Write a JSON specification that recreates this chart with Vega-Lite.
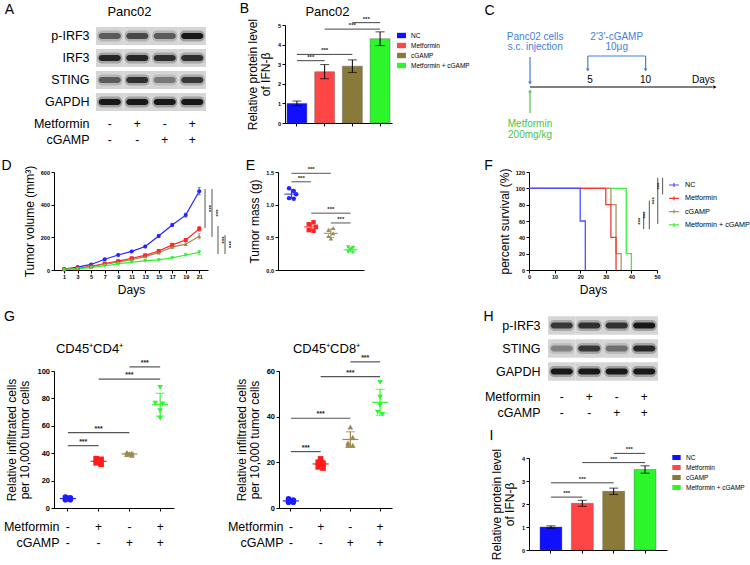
{
"$schema": "https://vega.github.io/schema/vega-lite/v6.json",
"background": "white",
"padding": {"left": 0, "top": 1, "right": 0, "bottom": 0},
"bounds": "full", "align": "none",
"spacing": 10,
"resolve": {"scale": {"color": "independent", "shape": "independent", "opacity": "independent", "fillOpacity": "independent", "xOffset": "independent"}, "legend": {"color": "independent", "shape": "independent"}},
"config": {
  "font": "Liberation Sans",
  "view": {"stroke": null},
  "axis": {"domainColor": "#000", "tickColor": "#000", "labelColor": "#000", "titleColor": "#000", "labelFontWeight": "bold", "labelFontSize": 6, "titleFontWeight": "normal", "titleFontSize": 12, "grid": false, "tickSize": 3, "labelPadding": 1.5, "titlePadding": 4, "domainWidth": 1, "tickWidth": 1, "labelFont": "Liberation Sans", "titleFont": "Liberation Sans", "labelOverlap": false, "labelFlush": false},
  "legend": {"labelColor": "#000", "labelFont": "Liberation Sans", "labelFontWeight": "normal"}
},
"datasets": {
  "treat": [
    {"group": "NC", "row": "Metformin", "sign": "-"}, {"group": "Metformin", "row": "Metformin", "sign": "+"}, {"group": "cGAMP", "row": "Metformin", "sign": "-"}, {"group": "Metformin + cGAMP", "row": "Metformin", "sign": "+"},
    {"group": "NC", "row": "cGAMP", "sign": "-"}, {"group": "Metformin", "row": "cGAMP", "sign": "-"}, {"group": "cGAMP", "row": "cGAMP", "sign": "+"}, {"group": "Metformin + cGAMP", "row": "cGAMP", "sign": "+"}
  ],
  "blotA": [
    {"protein": "p-IRF3", "group": "NC", "intensity": 0.55}, {"protein": "p-IRF3", "group": "Metformin", "intensity": 0.65}, {"protein": "p-IRF3", "group": "cGAMP", "intensity": 0.55}, {"protein": "p-IRF3", "group": "Metformin + cGAMP", "intensity": 0.95},
    {"protein": "IRF3", "group": "NC", "intensity": 0.85}, {"protein": "IRF3", "group": "Metformin", "intensity": 0.85}, {"protein": "IRF3", "group": "cGAMP", "intensity": 0.8}, {"protein": "IRF3", "group": "Metformin + cGAMP", "intensity": 0.8},
    {"protein": "STING", "group": "NC", "intensity": 0.55}, {"protein": "STING", "group": "Metformin", "intensity": 0.8}, {"protein": "STING", "group": "cGAMP", "intensity": 0.4}, {"protein": "STING", "group": "Metformin + cGAMP", "intensity": 0.75},
    {"protein": "GAPDH", "group": "NC", "intensity": 0.95}, {"protein": "GAPDH", "group": "Metformin", "intensity": 0.95}, {"protein": "GAPDH", "group": "cGAMP", "intensity": 0.95}, {"protein": "GAPDH", "group": "Metformin + cGAMP", "intensity": 0.95}
  ],
  "blotH": [
    {"protein": "p-IRF3", "group": "NC", "intensity": 0.75}, {"protein": "p-IRF3", "group": "Metformin", "intensity": 0.8}, {"protein": "p-IRF3", "group": "cGAMP", "intensity": 0.78}, {"protein": "p-IRF3", "group": "Metformin + cGAMP", "intensity": 0.95},
    {"protein": "STING", "group": "NC", "intensity": 0.35}, {"protein": "STING", "group": "Metformin", "intensity": 0.75}, {"protein": "STING", "group": "cGAMP", "intensity": 0.45}, {"protein": "STING", "group": "Metformin + cGAMP", "intensity": 0.85},
    {"protein": "GAPDH", "group": "NC", "intensity": 0.95}, {"protein": "GAPDH", "group": "Metformin", "intensity": 0.95}, {"protein": "GAPDH", "group": "cGAMP", "intensity": 0.95}, {"protein": "GAPDH", "group": "Metformin + cGAMP", "intensity": 0.95}
  ],
  "ifnB": [
    {"group": "NC", "value": 1.0, "sd": 0.12}, {"group": "Metformin", "value": 2.62, "sd": 0.36}, {"group": "cGAMP", "value": 2.9, "sd": 0.32}, {"group": "Metformin + cGAMP", "value": 4.3, "sd": 0.35}
  ],
  "ifnI": [
    {"group": "NC", "value": 1.0, "sd": 0.05}, {"group": "Metformin", "value": 2.03, "sd": 0.13}, {"group": "cGAMP", "value": 2.55, "sd": 0.14}, {"group": "Metformin + cGAMP", "value": 3.5, "sd": 0.16}
  ],
  "sigB": [
    {"from": "NC", "to": "Metformin", "level": 3.18}, {"from": "NC", "to": "cGAMP", "level": 3.5}, {"from": "Metformin", "to": "Metformin + cGAMP", "level": 4.79}, {"from": "cGAMP", "to": "Metformin + cGAMP", "level": 5.12}
  ],
  "sigI": [
    {"from": "NC", "to": "Metformin", "level": 2.3}, {"from": "NC", "to": "cGAMP", "level": 2.92}, {"from": "Metformin", "to": "Metformin + cGAMP", "level": 3.8}, {"from": "cGAMP", "to": "Metformin + cGAMP", "level": 4.2}
  ],
  "sigE": [
    {"from": "NC", "to": "Metformin", "level": 1.35}, {"from": "NC", "to": "cGAMP", "level": 1.48}, {"from": "Metformin", "to": "Metformin + cGAMP", "level": 0.87}, {"from": "cGAMP", "to": "Metformin + cGAMP", "level": 0.72}
  ],
  "sigG1": [
    {"from": "NC", "to": "Metformin", "level": 45.5}, {"from": "NC", "to": "cGAMP", "level": 55}, {"from": "Metformin", "to": "Metformin + cGAMP", "level": 94}, {"from": "cGAMP", "to": "Metformin + cGAMP", "level": 103}
  ],
  "sigG2": [
    {"from": "NC", "to": "Metformin", "level": 24.7}, {"from": "NC", "to": "cGAMP", "level": 39.3}, {"from": "Metformin", "to": "Metformin + cGAMP", "level": 57.5}, {"from": "cGAMP", "to": "Metformin + cGAMP", "level": 64}
  ],
  "growth": [
    {"group": "NC", "day": 1, "vol": 6, "sd": 2}, {"group": "NC", "day": 3, "vol": 18, "sd": 3}, {"group": "NC", "day": 5, "vol": 34, "sd": 4}, {"group": "NC", "day": 7, "vol": 66, "sd": 5}, {"group": "NC", "day": 9, "vol": 92, "sd": 6}, {"group": "NC", "day": 11, "vol": 114, "sd": 7}, {"group": "NC", "day": 13, "vol": 144, "sd": 8}, {"group": "NC", "day": 15, "vol": 208, "sd": 10}, {"group": "NC", "day": 17, "vol": 276, "sd": 10}, {"group": "NC", "day": 19, "vol": 336, "sd": 12}, {"group": "NC", "day": 21, "vol": 482, "sd": 22},
    {"group": "Metformin", "day": 1, "vol": 4, "sd": 1}, {"group": "Metformin", "day": 3, "vol": 10, "sd": 2}, {"group": "Metformin", "day": 5, "vol": 22, "sd": 3}, {"group": "Metformin", "day": 7, "vol": 40, "sd": 4}, {"group": "Metformin", "day": 9, "vol": 54, "sd": 5}, {"group": "Metformin", "day": 11, "vol": 72, "sd": 5}, {"group": "Metformin", "day": 13, "vol": 90, "sd": 6}, {"group": "Metformin", "day": 15, "vol": 116, "sd": 7}, {"group": "Metformin", "day": 17, "vol": 154, "sd": 8}, {"group": "Metformin", "day": 19, "vol": 184, "sd": 9}, {"group": "Metformin", "day": 21, "vol": 252, "sd": 14},
    {"group": "cGAMP", "day": 1, "vol": 4, "sd": 1}, {"group": "cGAMP", "day": 3, "vol": 10, "sd": 2}, {"group": "cGAMP", "day": 5, "vol": 20, "sd": 3}, {"group": "cGAMP", "day": 7, "vol": 36, "sd": 4}, {"group": "cGAMP", "day": 9, "vol": 48, "sd": 4}, {"group": "cGAMP", "day": 11, "vol": 64, "sd": 5}, {"group": "cGAMP", "day": 13, "vol": 82, "sd": 6}, {"group": "cGAMP", "day": 15, "vol": 106, "sd": 7}, {"group": "cGAMP", "day": 17, "vol": 140, "sd": 8}, {"group": "cGAMP", "day": 19, "vol": 158, "sd": 9}, {"group": "cGAMP", "day": 21, "vol": 206, "sd": 16},
    {"group": "Metformin + cGAMP", "day": 1, "vol": 2, "sd": 1}, {"group": "Metformin + cGAMP", "day": 3, "vol": 8, "sd": 2}, {"group": "Metformin + cGAMP", "day": 5, "vol": 14, "sd": 2}, {"group": "Metformin + cGAMP", "day": 7, "vol": 26, "sd": 3}, {"group": "Metformin + cGAMP", "day": 9, "vol": 38, "sd": 3}, {"group": "Metformin + cGAMP", "day": 11, "vol": 48, "sd": 4}, {"group": "Metformin + cGAMP", "day": 13, "vol": 56, "sd": 4}, {"group": "Metformin + cGAMP", "day": 15, "vol": 62, "sd": 5}, {"group": "Metformin + cGAMP", "day": 17, "vol": 74, "sd": 5}, {"group": "Metformin + cGAMP", "day": 19, "vol": 92, "sd": 6}, {"group": "Metformin + cGAMP", "day": 21, "vol": 108, "sd": 12}
  ],
  "sigD": [
    {"day": 21.86, "lo": 257, "hi": 496}, {"day": 22.89, "lo": 202, "hi": 496}, {"day": 23.78, "lo": 98, "hi": 269}, {"day": 24.82, "lo": 98, "hi": 214}
  ],
  "mass": [
    {"group": "NC", "mass": 1.25, "col": -1}, {"group": "NC", "mass": 1.21, "col": 1}, {"group": "NC", "mass": 1.16, "col": 2}, {"group": "NC", "mass": 1.10, "col": -1}, {"group": "NC", "mass": 1.09, "col": 1},
    {"group": "Metformin", "mass": 0.73, "col": 1}, {"group": "Metformin", "mass": 0.70, "col": -1}, {"group": "Metformin", "mass": 0.66, "col": 2}, {"group": "Metformin", "mass": 0.61, "col": -1}, {"group": "Metformin", "mass": 0.60, "col": 1},
    {"group": "cGAMP", "mass": 0.64, "col": 1}, {"group": "cGAMP", "mass": 0.61, "col": -1}, {"group": "cGAMP", "mass": 0.56, "col": 1}, {"group": "cGAMP", "mass": 0.52, "col": -1}, {"group": "cGAMP", "mass": 0.48, "col": 0},
    {"group": "Metformin + cGAMP", "mass": 0.35, "col": -1}, {"group": "Metformin + cGAMP", "mass": 0.34, "col": 1}, {"group": "Metformin + cGAMP", "mass": 0.31, "col": 0}, {"group": "Metformin + cGAMP", "mass": 0.28, "col": -1}, {"group": "Metformin + cGAMP", "mass": 0.27, "col": 1}
  ],
  "survival": [
    {"group": "Metformin + cGAMP", "day": 0, "pct": 100}, {"group": "Metformin + cGAMP", "day": 38, "pct": 20}, {"group": "Metformin + cGAMP", "day": 40, "pct": 0},
    {"group": "cGAMP", "day": 0, "pct": 100}, {"group": "cGAMP", "day": 32, "pct": 80}, {"group": "cGAMP", "day": 34, "pct": 20}, {"group": "cGAMP", "day": 36, "pct": 0},
    {"group": "Metformin", "day": 0, "pct": 100}, {"group": "Metformin", "day": 30, "pct": 80}, {"group": "Metformin", "day": 32, "pct": 40}, {"group": "Metformin", "day": 34, "pct": 0},
    {"group": "NC", "day": 0, "pct": 100}, {"group": "NC", "day": 20, "pct": 60}, {"group": "NC", "day": 22, "pct": 0}
  ],
  "sigF": [
    {"day": 44.8, "lo": 50, "hi": 69.5}, {"day": 47.0, "lo": 50, "hi": 85}, {"day": 50.3, "lo": 56.5, "hi": 113}, {"day": 52.2, "lo": 92.6, "hi": 113}
  ],
  "cd4": [
    {"group": "NC", "cells": 8, "col": -1}, {"group": "NC", "cells": 7.5, "col": 1}, {"group": "NC", "cells": 7, "col": 0}, {"group": "NC", "cells": 6, "col": -1}, {"group": "NC", "cells": 6, "col": 1},
    {"group": "Metformin", "cells": 36, "col": -1}, {"group": "Metformin", "cells": 35.5, "col": 1}, {"group": "Metformin", "cells": 34, "col": 0}, {"group": "Metformin", "cells": 33, "col": -1}, {"group": "Metformin", "cells": 32, "col": 1},
    {"group": "cGAMP", "cells": 40.5, "col": -1}, {"group": "cGAMP", "cells": 40, "col": 1}, {"group": "cGAMP", "cells": 39.5, "col": 0}, {"group": "cGAMP", "cells": 39, "col": -1}, {"group": "cGAMP", "cells": 38.5, "col": 1},
    {"group": "Metformin + cGAMP", "cells": 88, "col": 0}, {"group": "Metformin + cGAMP", "cells": 76.5, "col": -2}, {"group": "Metformin + cGAMP", "cells": 76, "col": 1}, {"group": "Metformin + cGAMP", "cells": 71, "col": 0}, {"group": "Metformin + cGAMP", "cells": 65.5, "col": 0}
  ],
  "cd8": [
    {"group": "NC", "cells": 4, "col": -1}, {"group": "NC", "cells": 3.5, "col": 1}, {"group": "NC", "cells": 3, "col": 0}, {"group": "NC", "cells": 2.5, "col": -1}, {"group": "NC", "cells": 2.5, "col": 1},
    {"group": "Metformin", "cells": 21.5, "col": 0}, {"group": "Metformin", "cells": 20, "col": -1}, {"group": "Metformin", "cells": 19.5, "col": 1}, {"group": "Metformin", "cells": 18, "col": -1}, {"group": "Metformin", "cells": 17.5, "col": 1},
    {"group": "cGAMP", "cells": 35.5, "col": 0}, {"group": "cGAMP", "cells": 31, "col": 1}, {"group": "cGAMP", "cells": 28.5, "col": -1}, {"group": "cGAMP", "cells": 27.5, "col": -1}, {"group": "cGAMP", "cells": 27.5, "col": 1},
    {"group": "Metformin + cGAMP", "cells": 55, "col": 0}, {"group": "Metformin + cGAMP", "cells": 48.5, "col": 0}, {"group": "Metformin + cGAMP", "cells": 45, "col": 0}, {"group": "Metformin + cGAMP", "cells": 42, "col": -1}, {"group": "Metformin + cGAMP", "cells": 41, "col": 1}
  ],
  "tlSeg": [
    {"agent": "axis", "day": 0, "day2": 15.8, "lvl": 0, "lvl2": 0},
    {"agent": "cells", "day": 0, "day2": 0, "lvl": 30, "lvl2": 5},
    {"agent": "cGAMP", "day": 5, "day2": 5, "lvl": 31, "lvl2": 18},
    {"agent": "cGAMP", "day": 5, "day2": 10, "lvl": 31, "lvl2": 31},
    {"agent": "cGAMP", "day": 10, "day2": 10, "lvl": 31, "lvl2": 18},
    {"agent": "metformin", "day": 0, "day2": 0, "lvl": -26, "lvl2": -5}
  ],
  "tlHead": [
    {"agent": "cells", "day": 0, "lvl": 4, "dir": "down"}, {"agent": "cGAMP", "day": 5, "lvl": 17, "dir": "down"}, {"agent": "cGAMP", "day": 10, "lvl": 17, "dir": "down"}, {"agent": "metformin", "day": 0, "lvl": -4, "dir": "up"}, {"agent": "axis", "day": 16, "lvl": 0, "dir": "right"}
  ],
  "tlText": [
    {"agent": "cells", "day": 0.45, "lvl": 50, "label": "Panc02 cells"},
    {"agent": "cells", "day": 0.45, "lvl": 40, "label": "s.c. injection"},
    {"agent": "cGAMP", "day": 7.5, "lvl": 50, "label": "2'3'-cGAMP"},
    {"agent": "cGAMP", "day": 7.5, "lvl": 40, "label": "10μg"},
    {"agent": "metformin", "day": 0, "lvl": -37, "label": "Metformin"},
    {"agent": "metformin", "day": 0, "lvl": -48, "label": "200mg/kg"},
    {"agent": "axis", "day": 5.2, "lvl": 7, "label": "5"},
    {"agent": "axis", "day": 10, "lvl": 7, "label": "10"},
    {"agent": "axis", "day": 15, "lvl": 7, "label": "Days"}
  ]
},
"vconcat": [
 {
  "bounds": "full", "align": "none", "spacing": 13,
  "resolve": {"scale": {"color": "independent", "shape": "independent", "opacity": "independent", "fillOpacity": "independent", "xOffset": "independent"}, "legend": {"color": "independent", "shape": "independent"}},
  "hconcat": [
   {
    "bounds": "full", "align": "none", "spacing": 33,
    "resolve": {"scale": {"color": "independent", "shape": "independent", "opacity": "independent", "fillOpacity": "independent", "xOffset": "independent"}, "legend": {"color": "independent", "shape": "independent"}},
    "hconcat": [
     {
      "bounds": "flush", "align": "none", "spacing": 3,
      "resolve": {"scale": {"color": "independent", "shape": "independent", "opacity": "independent", "fillOpacity": "independent", "xOffset": "independent"}, "legend": {"color": "independent", "shape": "independent"}},
      "vconcat": [
       {
        "width": 152, "height": 88,
        "data": {"name": "blotA"},
        "layer": [
         {"mark": {"type": "rect", "color": "#d5d5d5"},
          "encoding": {
           "x": {"field": "group", "type": "nominal", "scale": {"type": "band", "domain": ["NC", "Metformin", "cGAMP", "Metformin + cGAMP"], "paddingInner": 0, "paddingOuter": 0.764, "align": 1},
                 "axis": {"orient": "top", "title": "Panc02", "domain": false, "ticks": false, "labels": false, "titleX": 75, "titleY": -14, "titleAngle": 0, "titleAlign": "center", "titleBaseline": "middle", "titleFontSize": 13}},
           "y": {"field": "protein", "type": "nominal", "scale": {"type": "band", "domain": ["p-IRF3", "IRF3", "STING", "GAPDH"], "paddingInner": 0.18, "paddingOuter": 0.09},
                 "axis": {"title": "A", "titleAngle": 0, "titleX": -80, "titleY": -16, "titleAlign": "center", "titleBaseline": "middle", "titleFontSize": 14, "domain": false, "ticks": false, "labelFontSize": 12.5, "labelFontWeight": "normal", "labelPadding": 0, "offset": -35, "labelOverlap": false}}}},
         {"mark": {"type": "rect", "color": "#444444", "width": 25, "height": 11, "cornerRadius": 5},
          "encoding": {
           "x": {"field": "group", "type": "nominal"},
           "y": {"field": "protein", "type": "nominal"},
           "fillOpacity": {"field": "intensity", "type": "quantitative", "scale": {"domain": [0, 1], "range": [0, 0.4]}, "legend": null}}},
         {"mark": {"type": "rect", "color": "#111111", "width": 22, "height": 6, "cornerRadius": 3},
          "encoding": {
           "x": {"field": "group", "type": "nominal"},
           "y": {"field": "protein", "type": "nominal"},
           "opacity": {"field": "intensity", "type": "quantitative", "scale": {"domain": [0, 1], "range": [0, 1]}, "legend": null}}}
        ]
       },
       {
        "width": 152, "height": 32,
        "data": {"name": "treat"},
        "mark": {"type": "text", "fontSize": 12, "color": "#000"},
        "encoding": {
         "x": {"field": "group", "type": "nominal", "scale": {"type": "band", "domain": ["NC", "Metformin", "cGAMP", "Metformin + cGAMP"], "paddingInner": 0, "paddingOuter": 0.764, "align": 1}, "axis": null},
         "y": {"field": "row", "type": "nominal", "scale": {"type": "band", "domain": ["Metformin", "cGAMP"], "paddingInner": 0, "paddingOuter": 0}, "axis": {"title": null, "domain": false, "ticks": false, "labelFontSize": 12.5, "labelFontWeight": "normal", "labelPadding": 0, "offset": -35, "labelOverlap": false}},
         "text": {"field": "sign"}
        }
       }
      ]
     },
     {
      "width": 107, "height": 98,
      "resolve": {"axis": {"x": "independent", "y": "independent"}},
      "layer": [
       {"data": {"name": "ifnB"}, "mark": {"type": "bar", "stroke": "#555", "strokeWidth": 0.4},
        "encoding": {
         "x": {"field": "group", "type": "nominal", "scale": {"type": "band", "domain": ["NC", "Metformin", "cGAMP", "Metformin + cGAMP"], "paddingInner": 0.28, "paddingOuter": 0.07}, "axis": {"title": null, "labels": false, "ticks": true}},
         "y": {"field": "value", "type": "quantitative", "title": ["Relative protein level", "of IFN-β"], "scale": {"domain": [0, 5]}, "axis": {"values": [0, 1, 2, 3, 4, 5], "titleFontSize": 12, "titleLineHeight": 13, "labelFontSize": 5.5, "titlePadding": 5, "labelOverlap": false}},
         "color": {"field": "group", "type": "nominal", "scale": {"domain": ["NC", "Metformin", "cGAMP", "Metformin + cGAMP"], "range": ["#1010ff", "#ff4646", "#8a7a3a", "#2cf52c"]},
          "legend": {"orient": "none", "legendX": 112, "legendY": 6, "title": null, "symbolType": "M-1,-0.6H1V0.6H-1Z", "symbolSize": 80, "symbolStrokeWidth": 0, "labelFontSize": 6.5, "rowPadding": 2, "labelOffset": 5}}
        }},
       {"data": {"name": "ifnB"}, "mark": {"type": "errorbar", "ticks": true, "size": 9, "thickness": 1, "color": "#000"},
        "encoding": {"x": {"field": "group", "type": "nominal", "axis": null}, "y": {"field": "value", "type": "quantitative", "axis": null}, "yError": {"field": "sd"}}},
       {"data": {"name": "sigB"}, "mark": {"type": "rule", "color": "#444", "strokeWidth": 1},
        "encoding": {"x": {"field": "from", "type": "nominal", "axis": {"orient": "top", "title": "Panc02", "domain": false, "ticks": false, "labels": false, "titleX": 42, "titleY": -14, "titleAngle": 0, "titleAlign": "center", "titleBaseline": "middle", "titleFontSize": 13}}, "x2": {"field": "to"}, "y": {"field": "level", "type": "quantitative", "axis": null}}},
       {"data": {"name": "sigB"}, "transform": [{"filter": "indexof(['NC','Metformin','cGAMP','Metformin + cGAMP'], datum.to) - indexof(['NC','Metformin','cGAMP','Metformin + cGAMP'], datum.from) == 1"}],
        "mark": {"type": "text", "text": "***", "fontSize": 6, "fontWeight": "bold", "baseline": "bottom", "dy": -1, "color": "#222"},
        "encoding": {"x": {"field": "from", "type": "nominal", "bandPosition": 1.194, "axis": {"orient": "top", "title": "B", "domain": false, "ticks": false, "labels": false, "titleX": -41, "titleY": -17, "titleAngle": 0, "titleAlign": "center", "titleBaseline": "middle", "titleFontSize": 14}}, "y": {"field": "level", "type": "quantitative", "axis": null}}},
       {"data": {"name": "sigB"}, "transform": [{"filter": "indexof(['NC','Metformin','cGAMP','Metformin + cGAMP'], datum.to) - indexof(['NC','Metformin','cGAMP','Metformin + cGAMP'], datum.from) == 2"}],
        "mark": {"type": "text", "text": "***", "fontSize": 6, "fontWeight": "bold", "baseline": "bottom", "dy": -1, "color": "#222"},
        "encoding": {"x": {"field": "from", "type": "nominal", "bandPosition": 1.889, "axis": null}, "y": {"field": "level", "type": "quantitative", "axis": null}}}
      ]
     }
    ]
   },
   {
    "width": 185, "height": 123,
    "layer": [
     {"data": {"name": "tlSeg"}, "mark": {"type": "rule", "strokeWidth": 1.2},
      "encoding": {
       "x": {"field": "day", "type": "quantitative", "scale": {"domain": [0, 16], "nice": false},
             "axis": {"orient": "top", "title": "C", "domain": false, "ticks": false, "labels": false, "titleX": -41, "titleY": -15, "titleAngle": 0, "titleAlign": "center", "titleBaseline": "middle", "titleFontSize": 14}},
       "x2": {"field": "day2"},
       "y": {"field": "lvl", "type": "quantitative", "scale": {"domain": [-61, 62], "nice": false, "zero": false}, "axis": null},
       "y2": {"field": "lvl2"},
       "color": {"field": "agent", "type": "nominal", "scale": {"domain": ["axis", "cells", "cGAMP", "metformin"], "range": ["#000000", "#3f7fdb", "#3f7fdb", "#4cc24c"]}, "legend": null}}},
     {"data": {"name": "tlHead"}, "mark": {"type": "point", "filled": true, "size": 14, "opacity": 1},
      "encoding": {
       "x": {"field": "day", "type": "quantitative"},
       "y": {"field": "lvl", "type": "quantitative", "axis": null},
       "color": {"field": "agent", "type": "nominal", "legend": null},
       "shape": {"field": "dir", "type": "nominal", "scale": {"domain": ["down", "up", "right"], "range": ["triangle-down", "triangle-up", "triangle-right"]}, "legend": null}}},
     {"data": {"name": "tlText"}, "mark": {"type": "text", "fontSize": 10, "align": "center", "baseline": "middle"},
      "encoding": {
       "x": {"field": "day", "type": "quantitative"},
       "y": {"field": "lvl", "type": "quantitative", "axis": null},
       "text": {"field": "label"},
       "color": {"field": "agent", "type": "nominal", "legend": null}}}
    ]
   }
  ]
 },
 {
  "bounds": "full", "align": "none", "spacing": 90,
  "resolve": {"scale": {"color": "independent", "shape": "independent", "opacity": "independent", "fillOpacity": "independent", "xOffset": "independent"}, "legend": {"color": "independent", "shape": "independent"}},
  "hconcat": [
   {
    "bounds": "full", "align": "none", "spacing": 14,
    "resolve": {"scale": {"color": "independent", "shape": "independent", "opacity": "independent", "fillOpacity": "independent", "xOffset": "independent"}, "legend": {"color": "independent", "shape": "independent"}},
    "vconcat": [
     {
      "bounds": "flush", "align": "none", "spacing": 70,
      "resolve": {"scale": {"color": "independent", "shape": "independent", "opacity": "independent", "fillOpacity": "independent", "xOffset": "independent"}, "legend": {"color": "independent", "shape": "independent"}},
      "hconcat": [
       {
        "width": 154, "height": 98,
        "resolve": {"axis": {"x": "independent", "y": "independent"}},
        "layer": [
         {"data": {"name": "growth"}, "mark": {"type": "errorbar", "ticks": true, "size": 3, "thickness": 0.8},
          "encoding": {
           "x": {"field": "day", "type": "quantitative", "title": "Days", "scale": {"domain": [-0.5, 22.3], "nice": false, "zero": false}, "axis": {"values": [1, 3, 5, 7, 9, 11, 13, 15, 17, 19, 21], "labelFontSize": 5.5, "labelOverlap": false}},
           "y": {"field": "vol", "type": "quantitative", "title": "Tumor volume (mm³)", "scale": {"domain": [0, 600], "nice": false}, "axis": {"values": [0, 200, 400, 600], "labelFontSize": 5.5, "labelOverlap": false}},
           "yError": {"field": "sd"},
           "color": {"field": "group", "type": "nominal", "scale": {"domain": ["NC", "Metformin", "cGAMP", "Metformin + cGAMP"], "range": ["#2424ff", "#ff2424", "#9c8a52", "#33f033"]}, "legend": null}}},
         {"data": {"name": "growth"}, "mark": {"type": "line", "strokeWidth": 1.2},
          "encoding": {
           "x": {"field": "day", "type": "quantitative", "axis": null},
           "y": {"field": "vol", "type": "quantitative", "axis": null},
           "color": {"field": "group", "type": "nominal", "legend": null}}},
         {"data": {"name": "growth"}, "mark": {"type": "point", "filled": true, "size": 16, "opacity": 1},
          "encoding": {
           "x": {"field": "day", "type": "quantitative", "axis": null},
           "y": {"field": "vol", "type": "quantitative", "axis": null},
           "color": {"field": "group", "type": "nominal", "legend": {"orient": "none", "legendX": 22, "legendY": -4, "title": null, "labelFontSize": 6.8, "symbolSize": 18, "rowPadding": 3, "labelOffset": 6}},
           "shape": {"field": "group", "type": "nominal", "scale": {"domain": ["NC", "Metformin", "cGAMP", "Metformin + cGAMP"], "range": ["circle", "square", "triangle-up", "triangle-down"]}, "legend": {"orient": "none", "legendX": 22, "legendY": -4, "title": null, "labelFontSize": 6.8, "symbolSize": 18, "rowPadding": 3, "labelOffset": 6}}}},
         {"data": {"name": "sigD"}, "mark": {"type": "rule", "color": "#555", "strokeWidth": 1},
          "encoding": {"x": {"field": "day", "type": "quantitative", "axis": {"orient": "top", "title": "D", "domain": false, "ticks": false, "labels": false, "titleX": -48, "titleY": -7, "titleAngle": 0, "titleAlign": "center", "titleBaseline": "middle", "titleFontSize": 14}}, "y": {"field": "lo", "type": "quantitative", "axis": null}, "y2": {"field": "hi"}}},
         {"data": {"name": "sigD"}, "transform": [{"calculate": "(datum.lo + datum.hi) / 2", "as": "mid"}],
          "mark": {"type": "text", "text": "***", "angle": 90, "fontSize": 6, "fontWeight": "bold", "baseline": "bottom", "dy": -1, "color": "#222"},
          "encoding": {"x": {"field": "day", "type": "quantitative", "axis": null}, "y": {"field": "mid", "type": "quantitative", "axis": null}}}
        ]
       },
       {
        "width": 86, "height": 98,
        "resolve": {"axis": {"x": "independent", "y": "independent"}},
        "layer": [
         {"data": {"name": "mass"}, "mark": {"type": "errorbar", "extent": "stdev", "ticks": true, "size": 7, "thickness": 1},
          "encoding": {
           "x": {"field": "group", "type": "nominal", "scale": {"type": "band", "domain": ["NC", "Metformin", "cGAMP", "Metformin + cGAMP"], "paddingInner": 0.4, "paddingOuter": 0.38}, "axis": {"title": null, "labels": false, "ticks": false}},
           "y": {"field": "mass", "type": "quantitative", "title": "Tumor mass (g)", "scale": {"domain": [0, 1.5], "nice": false}, "axis": {"values": [0, 0.5, 1, 1.5], "format": ".1f", "labelFontSize": 5.5, "labelOverlap": false}},
           "color": {"field": "group", "type": "nominal", "scale": {"domain": ["NC", "Metformin", "cGAMP", "Metformin + cGAMP"], "range": ["#2424ff", "#ff2424", "#9c8a52", "#33f033"]}, "legend": null}}},
         {"data": {"name": "mass"}, "mark": {"type": "tick", "thickness": 1, "size": 14},
          "encoding": {
           "x": {"field": "group", "type": "nominal", "axis": null},
           "y": {"aggregate": "mean", "field": "mass", "type": "quantitative", "axis": null},
           "color": {"field": "group", "type": "nominal", "legend": null}}},
         {"data": {"name": "mass"}, "mark": {"type": "point", "filled": true, "size": 20, "opacity": 1},
          "encoding": {
           "x": {"field": "group", "type": "nominal", "axis": null},
           "xOffset": {"field": "col", "type": "ordinal", "scale": {"domain": [-2, -1, 0, 1, 2]}},
           "y": {"field": "mass", "type": "quantitative", "axis": null},
           "color": {"field": "group", "type": "nominal", "legend": {"orient": "none", "legendX": 97, "legendY": -7, "title": null, "labelFontSize": 7.2, "symbolSize": 18, "rowPadding": 4, "labelOffset": 6}},
           "shape": {"field": "group", "type": "nominal", "scale": {"domain": ["NC", "Metformin", "cGAMP", "Metformin + cGAMP"], "range": ["circle", "square", "triangle-up", "triangle-down"]}, "legend": {"orient": "none", "legendX": 97, "legendY": -7, "title": null, "labelFontSize": 7.2, "symbolSize": 18, "rowPadding": 4, "labelOffset": 6}}}},
         {"data": {"name": "sigE"}, "mark": {"type": "rule", "color": "#555", "strokeWidth": 1},
          "encoding": {"x": {"field": "from", "type": "nominal", "axis": {"orient": "top", "title": "E", "domain": false, "ticks": false, "labels": false, "titleX": -28, "titleY": -7, "titleAngle": 0, "titleAlign": "center", "titleBaseline": "middle", "titleFontSize": 14}}, "x2": {"field": "to"}, "y": {"field": "level", "type": "quantitative", "axis": null}}},
         {"data": {"name": "sigE"}, "transform": [{"filter": "indexof(['NC','Metformin','cGAMP','Metformin + cGAMP'], datum.to) - indexof(['NC','Metformin','cGAMP','Metformin + cGAMP'], datum.from) == 1"}],
          "mark": {"type": "text", "text": "***", "fontSize": 6, "fontWeight": "bold", "baseline": "bottom", "dy": -1, "color": "#222"},
          "encoding": {"x": {"field": "from", "type": "nominal", "bandPosition": 1.333, "axis": null}, "y": {"field": "level", "type": "quantitative", "axis": null}}},
         {"data": {"name": "sigE"}, "transform": [{"filter": "indexof(['NC','Metformin','cGAMP','Metformin + cGAMP'], datum.to) - indexof(['NC','Metformin','cGAMP','Metformin + cGAMP'], datum.from) == 2"}],
          "mark": {"type": "text", "text": "***", "fontSize": 6, "fontWeight": "bold", "baseline": "bottom", "dy": -1, "color": "#222"},
          "encoding": {"x": {"field": "from", "type": "nominal", "bandPosition": 2.167, "axis": null}, "y": {"field": "level", "type": "quantitative", "axis": null}}}
        ]
       }
      ]
     },
     {
      "bounds": "full", "align": "none", "spacing": 53,
      "resolve": {"scale": {"color": "independent", "shape": "independent", "opacity": "independent", "fillOpacity": "independent", "xOffset": "independent"}, "legend": {"color": "independent", "shape": "independent"}},
      "hconcat": [
       {
        "bounds": "flush", "align": "none", "spacing": 11,
        "resolve": {"scale": {"color": "independent", "shape": "independent", "opacity": "independent", "fillOpacity": "independent", "xOffset": "independent"}, "legend": {"color": "independent", "shape": "independent"}},
        "vconcat": [
         {
          "width": 120, "height": 137,
          "resolve": {"axis": {"x": "independent", "y": "independent"}},
          "layer": [
           {"data": {"name": "cd4"}, "mark": {"type": "errorbar", "extent": "stdev", "ticks": true, "size": 9, "thickness": 1.2},
            "encoding": {
             "x": {"field": "group", "type": "nominal", "scale": {"type": "band", "domain": ["NC", "Metformin", "cGAMP", "Metformin + cGAMP"], "paddingInner": 0.6, "paddingOuter": 0.25}, "axis": {"title": null, "labels": false, "ticks": true}},
             "y": {"field": "cells", "type": "quantitative", "title": ["Relative infiltrated cells", "per 10,000 tumor cells"], "scale": {"domain": [0, 100], "nice": false}, "axis": {"values": [0, 20, 40, 60, 80, 100], "titleLineHeight": 13, "labelFontSize": 7.5, "titlePadding": 5, "labelOverlap": false}},
             "color": {"field": "group", "type": "nominal", "scale": {"domain": ["NC", "Metformin", "cGAMP", "Metformin + cGAMP"], "range": ["#1c1cff", "#ff1c1c", "#9c8a50", "#33f533"]}, "legend": null}}},
           {"data": {"name": "cd4"}, "mark": {"type": "tick", "thickness": 1.2, "size": 16},
            "encoding": {
             "x": {"field": "group", "type": "nominal", "axis": null},
             "y": {"aggregate": "mean", "field": "cells", "type": "quantitative", "axis": null},
             "color": {"field": "group", "type": "nominal", "legend": null}}},
           {"data": {"name": "cd4"}, "mark": {"type": "point", "filled": true, "size": 32, "opacity": 1},
            "encoding": {
             "x": {"field": "group", "type": "nominal", "axis": null},
             "xOffset": {"field": "col", "type": "ordinal", "scale": {"domain": [-2, -1, 0, 1, 2]}},
             "y": {"field": "cells", "type": "quantitative", "axis": null},
             "color": {"field": "group", "type": "nominal", "legend": null},
             "shape": {"field": "group", "type": "nominal", "scale": {"domain": ["NC", "Metformin", "cGAMP", "Metformin + cGAMP"], "range": ["circle", "square", "triangle-up", "triangle-down"]}, "legend": null}}},
           {"data": {"name": "sigG1"}, "mark": {"type": "rule", "color": "#555", "strokeWidth": 1.2},
            "encoding": {"x": {"field": "from", "type": "nominal", "axis": {"orient": "top", "title": "CD45⁺CD4⁺", "domain": false, "ticks": false, "labels": false, "titleX": 35, "titleY": -23, "titleAngle": 0, "titleAlign": "center", "titleBaseline": "middle", "titleFontSize": 13}}, "x2": {"field": "to"}, "y": {"field": "level", "type": "quantitative", "axis": null}}},
           {"data": {"name": "sigG1"}, "transform": [{"filter": "indexof(['NC','Metformin','cGAMP','Metformin + cGAMP'], datum.to) - indexof(['NC','Metformin','cGAMP','Metformin + cGAMP'], datum.from) == 1"}],
            "mark": {"type": "text", "text": "***", "fontSize": 7, "fontWeight": "bold", "baseline": "bottom", "dy": -1, "color": "#222"},
            "encoding": {"x": {"field": "from", "type": "nominal", "bandPosition": 1.75, "axis": {"orient": "top", "title": "G", "domain": false, "ticks": false, "labels": false, "titleX": -45, "titleY": -55, "titleAngle": 0, "titleAlign": "center", "titleBaseline": "middle", "titleFontSize": 14}}, "y": {"field": "level", "type": "quantitative", "axis": null}}},
           {"data": {"name": "sigG1"}, "transform": [{"filter": "indexof(['NC','Metformin','cGAMP','Metformin + cGAMP'], datum.to) - indexof(['NC','Metformin','cGAMP','Metformin + cGAMP'], datum.from) == 2"}],
            "mark": {"type": "text", "text": "***", "fontSize": 7, "fontWeight": "bold", "baseline": "bottom", "dy": -1, "color": "#222"},
            "encoding": {"x": {"field": "from", "type": "nominal", "bandPosition": 3.0, "axis": null}, "y": {"field": "level", "type": "quantitative", "axis": null}}}
          ]
         },
         {
          "width": 120, "height": 32,
          "data": {"name": "treat"},
          "mark": {"type": "text", "fontSize": 12, "color": "#000"},
          "encoding": {
           "x": {"field": "group", "type": "nominal", "scale": {"type": "band", "domain": ["NC", "Metformin", "cGAMP", "Metformin + cGAMP"], "paddingInner": 0.6, "paddingOuter": 0.25}, "axis": null},
           "y": {"field": "row", "type": "nominal", "scale": {"type": "band", "domain": ["Metformin", "cGAMP"], "paddingInner": 0, "paddingOuter": 0}, "axis": {"title": null, "domain": false, "ticks": false, "labelFontSize": 12.5, "labelFontWeight": "normal", "labelPadding": 0, "offset": -5, "labelOverlap": false}},
           "text": {"field": "sign"}
          }
         }
        ]
       },
       {
        "bounds": "flush", "align": "none", "spacing": 11,
        "resolve": {"scale": {"color": "independent", "shape": "independent", "opacity": "independent", "fillOpacity": "independent", "xOffset": "independent"}, "legend": {"color": "independent", "shape": "independent"}},
        "vconcat": [
         {
          "width": 113, "height": 137,
          "resolve": {"axis": {"x": "independent", "y": "independent"}},
          "layer": [
           {"data": {"name": "cd8"}, "mark": {"type": "errorbar", "extent": "stdev", "ticks": true, "size": 9, "thickness": 1.2},
            "encoding": {
             "x": {"field": "group", "type": "nominal", "scale": {"type": "band", "domain": ["NC", "Metformin", "cGAMP", "Metformin + cGAMP"], "paddingInner": 0.6, "paddingOuter": 0.2}, "axis": {"title": null, "labels": false, "ticks": true}},
             "y": {"field": "cells", "type": "quantitative", "title": ["Relative infiltrated cells", "per 10,000 tumor cells"], "scale": {"domain": [0, 60], "nice": false}, "axis": {"values": [0, 20, 40, 60], "titleLineHeight": 13, "labelFontSize": 7.5, "titlePadding": 5, "labelOverlap": false}},
             "color": {"field": "group", "type": "nominal", "scale": {"domain": ["NC", "Metformin", "cGAMP", "Metformin + cGAMP"], "range": ["#1c1cff", "#ff1c1c", "#9c8a50", "#33f533"]}, "legend": null}}},
           {"data": {"name": "cd8"}, "mark": {"type": "tick", "thickness": 1.2, "size": 16},
            "encoding": {
             "x": {"field": "group", "type": "nominal", "axis": null},
             "y": {"aggregate": "mean", "field": "cells", "type": "quantitative", "axis": null},
             "color": {"field": "group", "type": "nominal", "legend": null}}},
           {"data": {"name": "cd8"}, "mark": {"type": "point", "filled": true, "size": 32, "opacity": 1},
            "encoding": {
             "x": {"field": "group", "type": "nominal", "axis": null},
             "xOffset": {"field": "col", "type": "ordinal", "scale": {"domain": [-2, -1, 0, 1, 2]}},
             "y": {"field": "cells", "type": "quantitative", "axis": null},
             "color": {"field": "group", "type": "nominal", "legend": null},
             "shape": {"field": "group", "type": "nominal", "scale": {"domain": ["NC", "Metformin", "cGAMP", "Metformin + cGAMP"], "range": ["circle", "square", "triangle-up", "triangle-down"]}, "legend": null}}},
           {"data": {"name": "sigG2"}, "mark": {"type": "rule", "color": "#555", "strokeWidth": 1.2},
            "encoding": {"x": {"field": "from", "type": "nominal", "axis": {"orient": "top", "title": "CD45⁺CD8⁺", "domain": false, "ticks": false, "labels": false, "titleX": 47, "titleY": -23, "titleAngle": 0, "titleAlign": "center", "titleBaseline": "middle", "titleFontSize": 13}}, "x2": {"field": "to"}, "y": {"field": "level", "type": "quantitative", "axis": null}}},
           {"data": {"name": "sigG2"}, "transform": [{"filter": "indexof(['NC','Metformin','cGAMP','Metformin + cGAMP'], datum.to) - indexof(['NC','Metformin','cGAMP','Metformin + cGAMP'], datum.from) == 1"}],
            "mark": {"type": "text", "text": "***", "fontSize": 7, "fontWeight": "bold", "baseline": "bottom", "dy": -1, "color": "#222"},
            "encoding": {"x": {"field": "from", "type": "nominal", "bandPosition": 1.75, "axis": null}, "y": {"field": "level", "type": "quantitative", "axis": null}}},
           {"data": {"name": "sigG2"}, "transform": [{"filter": "indexof(['NC','Metformin','cGAMP','Metformin + cGAMP'], datum.to) - indexof(['NC','Metformin','cGAMP','Metformin + cGAMP'], datum.from) == 2"}],
            "mark": {"type": "text", "text": "***", "fontSize": 7, "fontWeight": "bold", "baseline": "bottom", "dy": -1, "color": "#222"},
            "encoding": {"x": {"field": "from", "type": "nominal", "bandPosition": 3.0, "axis": null}, "y": {"field": "level", "type": "quantitative", "axis": null}}}
          ]
         },
         {
          "width": 113, "height": 32,
          "data": {"name": "treat"},
          "mark": {"type": "text", "fontSize": 12, "color": "#000"},
          "encoding": {
           "x": {"field": "group", "type": "nominal", "scale": {"type": "band", "domain": ["NC", "Metformin", "cGAMP", "Metformin + cGAMP"], "paddingInner": 0.6, "paddingOuter": 0.2}, "axis": null},
           "y": {"field": "row", "type": "nominal", "scale": {"type": "band", "domain": ["Metformin", "cGAMP"], "paddingInner": 0, "paddingOuter": 0}, "axis": {"title": null, "domain": false, "ticks": false, "labelFontSize": 12.5, "labelFontWeight": "normal", "labelPadding": 0, "offset": -4, "labelOverlap": false}},
           "text": {"field": "sign"}
          }
         }
        ]
       }
      ]
     }
    ]
   },
   {
    "bounds": "full", "align": "none", "spacing": 14,
    "resolve": {"scale": {"color": "independent", "shape": "independent", "opacity": "independent", "fillOpacity": "independent", "xOffset": "independent"}, "legend": {"color": "independent", "shape": "independent"}},
    "vconcat": [
     {
      "width": 128, "height": 98,
      "resolve": {"axis": {"x": "independent", "y": "independent"}},
      "layer": [
       {"data": {"name": "survival"}, "mark": {"type": "line", "interpolate": "step-after", "strokeWidth": 1.3},
        "encoding": {
         "x": {"field": "day", "type": "quantitative", "title": "Days", "scale": {"domain": [0, 50], "nice": false}, "axis": {"values": [0, 10, 20, 30, 40, 50], "labelFontSize": 5.5, "labelOverlap": false}},
         "y": {"field": "pct", "type": "quantitative", "title": "percent survival (%)", "scale": {"domain": [0, 120], "nice": false}, "axis": {"values": [0, 20, 40, 60, 80, 100, 120], "labelFontSize": 5.5, "labelOverlap": false}},
         "color": {"field": "group", "type": "nominal", "scale": {"domain": ["NC", "Metformin", "cGAMP", "Metformin + cGAMP"], "range": ["#4d4dff", "#ff3333", "#a8955e", "#3cf03c"]},
          "legend": {"orient": "none", "legendX": 139, "legendY": 7, "title": null, "labelFontSize": 7.2, "symbolType": "M-1,0H1M0,-0.4V0.4", "symbolSize": 100, "symbolStrokeWidth": 1.2, "rowPadding": 2.3, "labelOffset": 5}}}},
       {"data": {"name": "sigF"}, "mark": {"type": "rule", "color": "#555", "strokeWidth": 1},
        "encoding": {"x": {"field": "day", "type": "quantitative", "axis": {"orient": "top", "title": "F", "domain": false, "ticks": false, "labels": false, "titleX": -41, "titleY": -7, "titleAngle": 0, "titleAlign": "center", "titleBaseline": "middle", "titleFontSize": 14}}, "y": {"field": "lo", "type": "quantitative", "axis": null}, "y2": {"field": "hi"}}},
       {"data": {"name": "sigF"}, "transform": [{"calculate": "(datum.lo + datum.hi) / 2", "as": "mid"}],
        "mark": {"type": "text", "text": "***", "angle": 270, "fontSize": 6, "fontWeight": "bold", "baseline": "bottom", "dy": -1, "color": "#222"},
        "encoding": {"x": {"field": "day", "type": "quantitative", "axis": null}, "y": {"field": "mid", "type": "quantitative", "axis": null}}}
      ]
     },
     {
      "bounds": "full", "align": "none", "spacing": 7,
      "resolve": {"scale": {"color": "independent", "shape": "independent", "opacity": "independent", "fillOpacity": "independent", "xOffset": "independent"}, "legend": {"color": "independent", "shape": "independent"}},
      "vconcat": [
       {
        "bounds": "flush", "align": "none", "spacing": 6,
        "resolve": {"scale": {"color": "independent", "shape": "independent", "opacity": "independent", "fillOpacity": "independent", "xOffset": "independent"}, "legend": {"color": "independent", "shape": "independent"}},
        "vconcat": [
         {
          "width": 129, "height": 69,
          "data": {"name": "blotH"},
          "layer": [
           {"mark": {"type": "rect", "color": "#d5d5d5"},
            "encoding": {
             "x": {"field": "group", "type": "nominal", "scale": {"type": "band", "domain": ["NC", "Metformin", "cGAMP", "Metformin + cGAMP"], "paddingInner": 0, "paddingOuter": 0.345, "align": 1}, "axis": null},
             "y": {"field": "protein", "type": "nominal", "scale": {"type": "band", "domain": ["p-IRF3", "STING", "GAPDH"], "paddingInner": 0.2, "paddingOuter": 0.1},
                   "axis": {"title": "H", "titleAngle": 0, "titleX": -52, "titleY": 2, "titleAlign": "center", "titleBaseline": "middle", "titleFontSize": 14, "domain": false, "ticks": false, "labelFontSize": 12.5, "labelFontWeight": "normal", "labelPadding": 0, "offset": -11, "labelOverlap": false}}}},
           {"mark": {"type": "rect", "color": "#444444", "width": 25, "height": 11, "cornerRadius": 5},
            "encoding": {
             "x": {"field": "group", "type": "nominal"},
             "y": {"field": "protein", "type": "nominal"},
             "fillOpacity": {"field": "intensity", "type": "quantitative", "scale": {"domain": [0, 1], "range": [0, 0.4]}, "legend": null}}},
           {"mark": {"type": "rect", "color": "#111111", "width": 22, "height": 6, "cornerRadius": 3},
            "encoding": {
             "x": {"field": "group", "type": "nominal"},
             "y": {"field": "protein", "type": "nominal"},
             "opacity": {"field": "intensity", "type": "quantitative", "scale": {"domain": [0, 1], "range": [0, 1]}, "legend": null}}}
          ]
         },
         {
          "width": 129, "height": 32,
          "data": {"name": "treat"},
          "mark": {"type": "text", "fontSize": 12, "color": "#000"},
          "encoding": {
           "x": {"field": "group", "type": "nominal", "scale": {"type": "band", "domain": ["NC", "Metformin", "cGAMP", "Metformin + cGAMP"], "paddingInner": 0, "paddingOuter": 0.345, "align": 1}, "axis": null},
           "y": {"field": "row", "type": "nominal", "scale": {"type": "band", "domain": ["Metformin", "cGAMP"], "paddingInner": 0, "paddingOuter": 0}, "axis": {"title": null, "domain": false, "ticks": false, "labelFontSize": 12.5, "labelFontWeight": "normal", "labelPadding": 0, "offset": -11, "labelOverlap": false}},
           "text": {"field": "sign"}
          }
         }
        ]
       },
       {
        "width": 138, "height": 92,
        "resolve": {"axis": {"x": "independent", "y": "independent"}},
        "layer": [
         {"data": {"name": "ifnI"}, "mark": {"type": "bar", "stroke": "#555", "strokeWidth": 0.4},
          "encoding": {
           "x": {"field": "group", "type": "nominal", "scale": {"type": "band", "domain": ["NC", "Metformin", "cGAMP", "Metformin + cGAMP"], "paddingInner": 0.3, "paddingOuter": 0.35}, "axis": {"title": null, "labels": false, "ticks": true}},
           "y": {"field": "value", "type": "quantitative", "title": ["Relative protein level", "of IFN-β"], "scale": {"domain": [0, 4]}, "axis": {"values": [0, 1, 2, 3, 4], "titleLineHeight": 13, "labelFontSize": 5.5, "titlePadding": 5, "labelOverlap": false}},
           "color": {"field": "group", "type": "nominal", "scale": {"domain": ["NC", "Metformin", "cGAMP", "Metformin + cGAMP"], "range": ["#1010ff", "#ff4646", "#8a7a3a", "#2cf52c"]},
            "legend": {"orient": "none", "legendX": 143, "legendY": -5, "title": null, "symbolType": "M-1,-0.6H1V0.6H-1Z", "symbolSize": 70, "symbolStrokeWidth": 0, "labelFontSize": 6.5, "rowPadding": 2, "labelOffset": 5}}
          }},
         {"data": {"name": "ifnI"}, "mark": {"type": "errorbar", "ticks": true, "size": 9, "thickness": 1, "color": "#000"},
          "encoding": {"x": {"field": "group", "type": "nominal", "axis": null}, "y": {"field": "value", "type": "quantitative", "axis": null}, "yError": {"field": "sd"}}},
         {"data": {"name": "sigI"}, "mark": {"type": "rule", "color": "#444", "strokeWidth": 1},
          "encoding": {"x": {"field": "from", "type": "nominal", "axis": {"orient": "top", "title": "I", "domain": false, "ticks": false, "labels": false, "titleX": -38, "titleY": -23, "titleAngle": 0, "titleAlign": "center", "titleBaseline": "middle", "titleFontSize": 14}}, "x2": {"field": "to"}, "y": {"field": "level", "type": "quantitative", "axis": null}}},
         {"data": {"name": "sigI"}, "transform": [{"filter": "indexof(['NC','Metformin','cGAMP','Metformin + cGAMP'], datum.to) - indexof(['NC','Metformin','cGAMP','Metformin + cGAMP'], datum.from) == 1"}],
          "mark": {"type": "text", "text": "***", "fontSize": 6, "fontWeight": "bold", "baseline": "bottom", "dy": -1, "color": "#222"},
          "encoding": {"x": {"field": "from", "type": "nominal", "bandPosition": 1.214, "axis": null}, "y": {"field": "level", "type": "quantitative", "axis": null}}},
         {"data": {"name": "sigI"}, "transform": [{"filter": "indexof(['NC','Metformin','cGAMP','Metformin + cGAMP'], datum.to) - indexof(['NC','Metformin','cGAMP','Metformin + cGAMP'], datum.from) == 2"}],
          "mark": {"type": "text", "text": "***", "fontSize": 6, "fontWeight": "bold", "baseline": "bottom", "dy": -1, "color": "#222"},
          "encoding": {"x": {"field": "from", "type": "nominal", "bandPosition": 1.929, "axis": null}, "y": {"field": "level", "type": "quantitative", "axis": null}}}
        ]
       }
      ]
     }
    ]
   }
  ]
 }
]
}
